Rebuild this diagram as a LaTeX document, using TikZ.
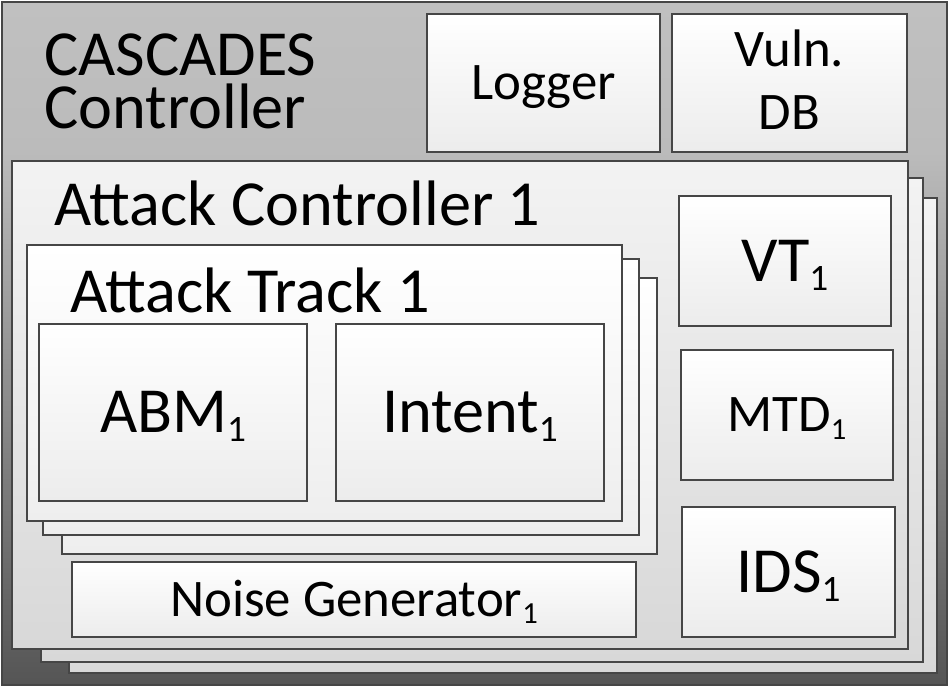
\documentclass[tikz,border=0pt]{standalone}
\usepackage{fontspec}
\setmainfont{Carlito}
\usepackage{graphicx}
\definecolor{edge}{HTML}{464646}
\definecolor{oTop}{HTML}{C0C0C0}
\definecolor{oMid}{HTML}{BBBBBB}
\definecolor{oBot}{HTML}{555555}
\definecolor{acTop}{HTML}{F3F3F3}
\definecolor{acBot}{HTML}{D8D8D8}
\definecolor{atBot}{HTML}{EEEEEE}
\definecolor{boxBot}{HTML}{ECECEC}
\pgfdeclareverticalshading{outershade}{100bp}{color(0bp)=(oBot); color(25bp)=(oBot); color(64bp)=(oMid); color(75bp)=(oTop); color(100bp)=(oTop)}
\newcommand{\subone}{\raisebox{-0.14em}{\scalebox{0.58}{1}}}
\begin{document}
\begin{tikzpicture}[x=0.75pt,y=-0.75pt,
  frame/.style={draw=edge, line width=2.2pt, rectangle, inner sep=0pt},
  outerbox/.style={frame, shade, shading=outershade},
  acbox/.style={frame, top color=acTop, bottom color=acBot},
  atbox/.style={frame, top color=white, bottom color=atBot},
  box/.style={frame, top color=white, bottom color=boxBot},
  bigtxt/.style={font=\fontsize{48.2}{48.2}\selectfont, text height=30.5pt, text depth=0pt},
  smalltxt/.style={font=\fontsize{39.6}{47.25}\selectfont, text height=25pt, text depth=0pt},
  label/.style={inner sep=0pt, anchor=base west, font=\fontsize{48.2}{39.75}\selectfont}]
\useasboundingbox (0,0) rectangle (951,689);
% outer controller
\node[outerbox, minimum width=708.75pt, minimum height=512.25pt] (cascades) at (474.5,343.5) {};
% attack controller stack
\node[acbox, minimum width=651pt, minimum height=356.25pt] (ac3) at (503,435.5) {};
\node[acbox, minimum width=661.5pt, minimum height=363pt] (ac2) at (482,420) {};
\node[acbox, minimum width=672pt, minimum height=366pt] (ac1) at (460,405) {};
% attack track stack
\node[atbox, minimum width=446.25pt, minimum height=207pt] (at3) at (359.5,416) {};
\node[atbox, minimum width=447pt, minimum height=207pt] (at2) at (341,397) {};
\node[atbox, minimum width=446.25pt, minimum height=207pt] (at1) at (324.5,383) {};
% inner boxes
\node[box, bigtxt, minimum width=201pt, minimum height=132.75pt] (abm) at (173,412.5) {ABM\subone};
\node[box, bigtxt, minimum width=201pt, minimum height=132.75pt] (intent) at (470,412.5) {Intent\subone};
\node[box, bigtxt, minimum width=159pt, minimum height=97.5pt] (vt) at (785,261) {VT\subone};
\node[box, smalltxt, minimum width=159pt, minimum height=97.5pt] (mtd) at (787,415) {MTD\subone};
\node[box, bigtxt, minimum width=159.75pt, minimum height=97.5pt] (ids) at (788.5,572) {IDS\subone};
\node[box, smalltxt, minimum width=423pt, minimum height=56.25pt] (noise) at (354,599.5) {Noise Generator\subone};
\node[box, smalltxt, minimum width=174.75pt, minimum height=103.5pt] (logger) at (543.5,83) {Logger};
\node[box, minimum width=176.25pt, minimum height=103.5pt] (vuln) at (789.5,83) {};
\node[inner sep=0pt, anchor=base, font=\fontsize{39.6}{47.25}\selectfont] (vulnlbl) at (789.5,66) {\begin{tabular}[t]{@{}c@{}}Vuln.\\DB\end{tabular}};
% titles
\node[label] (title) at (44,75) {\begin{tabular}[t]{@{}l@{}}CASCADES\\\smash{Controller}\end{tabular}};
\node[label] (aclabel) at (54,225) {Attack Controller 1};
\node[label] (atlabel) at (70,312) {Attack Track 1};
\end{tikzpicture}
\end{document}
